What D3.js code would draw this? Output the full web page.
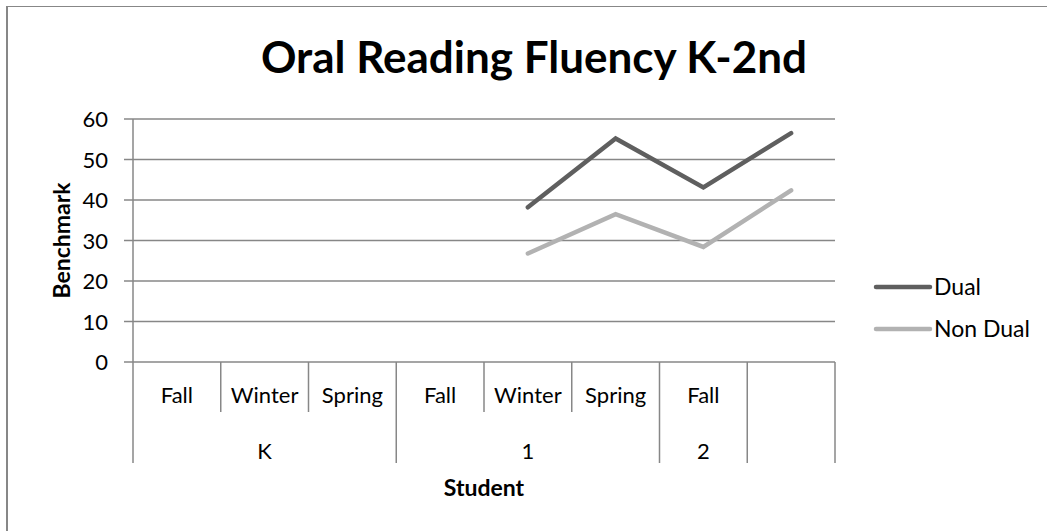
<!DOCTYPE html>
<meta charset="utf-8">
<style>
  html, body { margin: 0; padding: 0; background: #fff; }
  svg { display: block; font-family: Lato, "Open Sans", sans-serif; }
  .grid line { stroke: #878787; stroke-width: 1.5; }
  .sep { stroke: #878787; stroke-width: 1.5; }
</style>
<body>
<script src="https://cdnjs.cloudflare.com/ajax/libs/d3/7.8.5/d3.min.js"></script>
<script>
// data
var seasons = ["Fall", "Winter", "Spring", "Fall", "Winter", "Spring", "Fall", ""];
var grades = ["K", "1", "2", ""];
var gradeSpan = [3, 3, 1, 1];   // how many season slots each grade covers
var dual    = [null, null, null, null, 38.2, 55.2, 43.1, 56.5];
var nonDual = [null, null, null, null, 26.8, 36.5, 28.4, 42.4];
var yTicks = [0, 10, 20, 30, 40, 50, 60];

var W = 1047, H = 531;
var plot = {left: 133, right: 835, top: 119, bottom: 362};

var svg = d3.select("body").append("svg").attr("width", W).attr("height", H);

// outer border (only left + top visible in the crop)
svg.append("line").attr("x1", 7).attr("x2", 7).attr("y1", 6).attr("y2", H)
  .attr("stroke", "#878787").attr("stroke-width", 2);
svg.append("line").attr("x1", 6).attr("x2", W).attr("y1", 6.5).attr("y2", 6.5)
  .attr("stroke", "#878787").attr("stroke-width", 1);

var x = d3.scaleBand().domain(d3.range(seasons.length)).range([plot.left, plot.right]);
var y = d3.scaleLinear().domain([0, 60]).range([plot.bottom, plot.top]);

// title
svg.append("text").attr("x", 534).attr("y", 73).attr("text-anchor", "middle")
  .attr("font-size", 44).attr("font-weight", "bold").attr("fill", "#000")
  .text("Oral Reading Fluency K-2nd");

// gridlines and y ticks
var grid = svg.append("g").attr("class", "grid");
grid.selectAll("line").data(yTicks).enter().append("line")
  .attr("x1", plot.left - 9).attr("x2", plot.right)
  .attr("y1", d => y(d)).attr("y2", d => y(d));

svg.append("g").selectAll("text").data(yTicks).enter().append("text")
  .attr("x", 108).attr("y", d => y(d) + 8).attr("text-anchor", "end")
  .attr("font-size", 22).attr("fill", "#000").text(d => d);

// y axis line
svg.append("line").attr("class", "sep")
  .attr("x1", plot.left).attr("x2", plot.left).attr("y1", plot.top).attr("y2", 463);

// y title
svg.append("text").attr("transform", "translate(70," + ((plot.top + plot.bottom) / 2) + ") rotate(-90)")
  .attr("text-anchor", "middle").attr("font-size", 23).attr("font-weight", "bold")
  .text("Benchmark");

// category axis: season separators
var bounds = [0];
gradeSpan.forEach(function (s) { bounds.push(bounds[bounds.length - 1] + s); });
d3.range(1, seasons.length + 1).forEach(function (i) {
  var major = bounds.indexOf(i) >= 0;
  svg.append("line").attr("class", "sep")
    .attr("x1", plot.left + i * x.step()).attr("x2", plot.left + i * x.step())
    .attr("y1", plot.bottom).attr("y2", major ? 463 : 412);
});

svg.append("g").selectAll("text").data(seasons).enter().append("text")
  .attr("x", (d, i) => x(i) + x.bandwidth() / 2).attr("y", 403)
  .attr("text-anchor", "middle").attr("font-size", 22).text(d => d);

svg.append("g").selectAll("text").data(grades).enter().append("text")
  .attr("x", (d, i) => plot.left + (bounds[i] + gradeSpan[i] / 2) * x.step())
  .attr("y", 459).attr("text-anchor", "middle").attr("font-size", 22).text(d => d);

svg.append("text").attr("x", (plot.left + plot.right) / 2).attr("y", 496)
  .attr("text-anchor", "middle").attr("font-size", 23).attr("font-weight", "bold")
  .text("Student");

// lines
var line = d3.line()
  .defined(d => d != null)
  .x((d, i) => x(i) + x.bandwidth() / 2)
  .y(d => y(d));

var series = [
  {name: "Dual", values: dual, color: "#5f5f5f"},
  {name: "Non Dual", values: nonDual, color: "#b2b2b2"}
];

svg.append("g").selectAll("path").data(series).enter().append("path")
  .attr("d", d => line(d.values))
  .attr("fill", "none").attr("stroke", d => d.color).attr("stroke-width", 4.5)
  .attr("stroke-linecap", "round").attr("stroke-linejoin", "miter");

// legend
var leg = svg.append("g").selectAll("g").data(series).enter().append("g")
  .attr("transform", (d, i) => "translate(876," + (287 + i * 42) + ")");
leg.append("line").attr("x1", 0).attr("x2", 54)
  .attr("stroke", d => d.color).attr("stroke-width", 4.5).attr("stroke-linecap", "round");
leg.append("text").attr("x", 58).attr("y", 8).attr("font-size", 23).text(d => d.name);
</script>
</body>
